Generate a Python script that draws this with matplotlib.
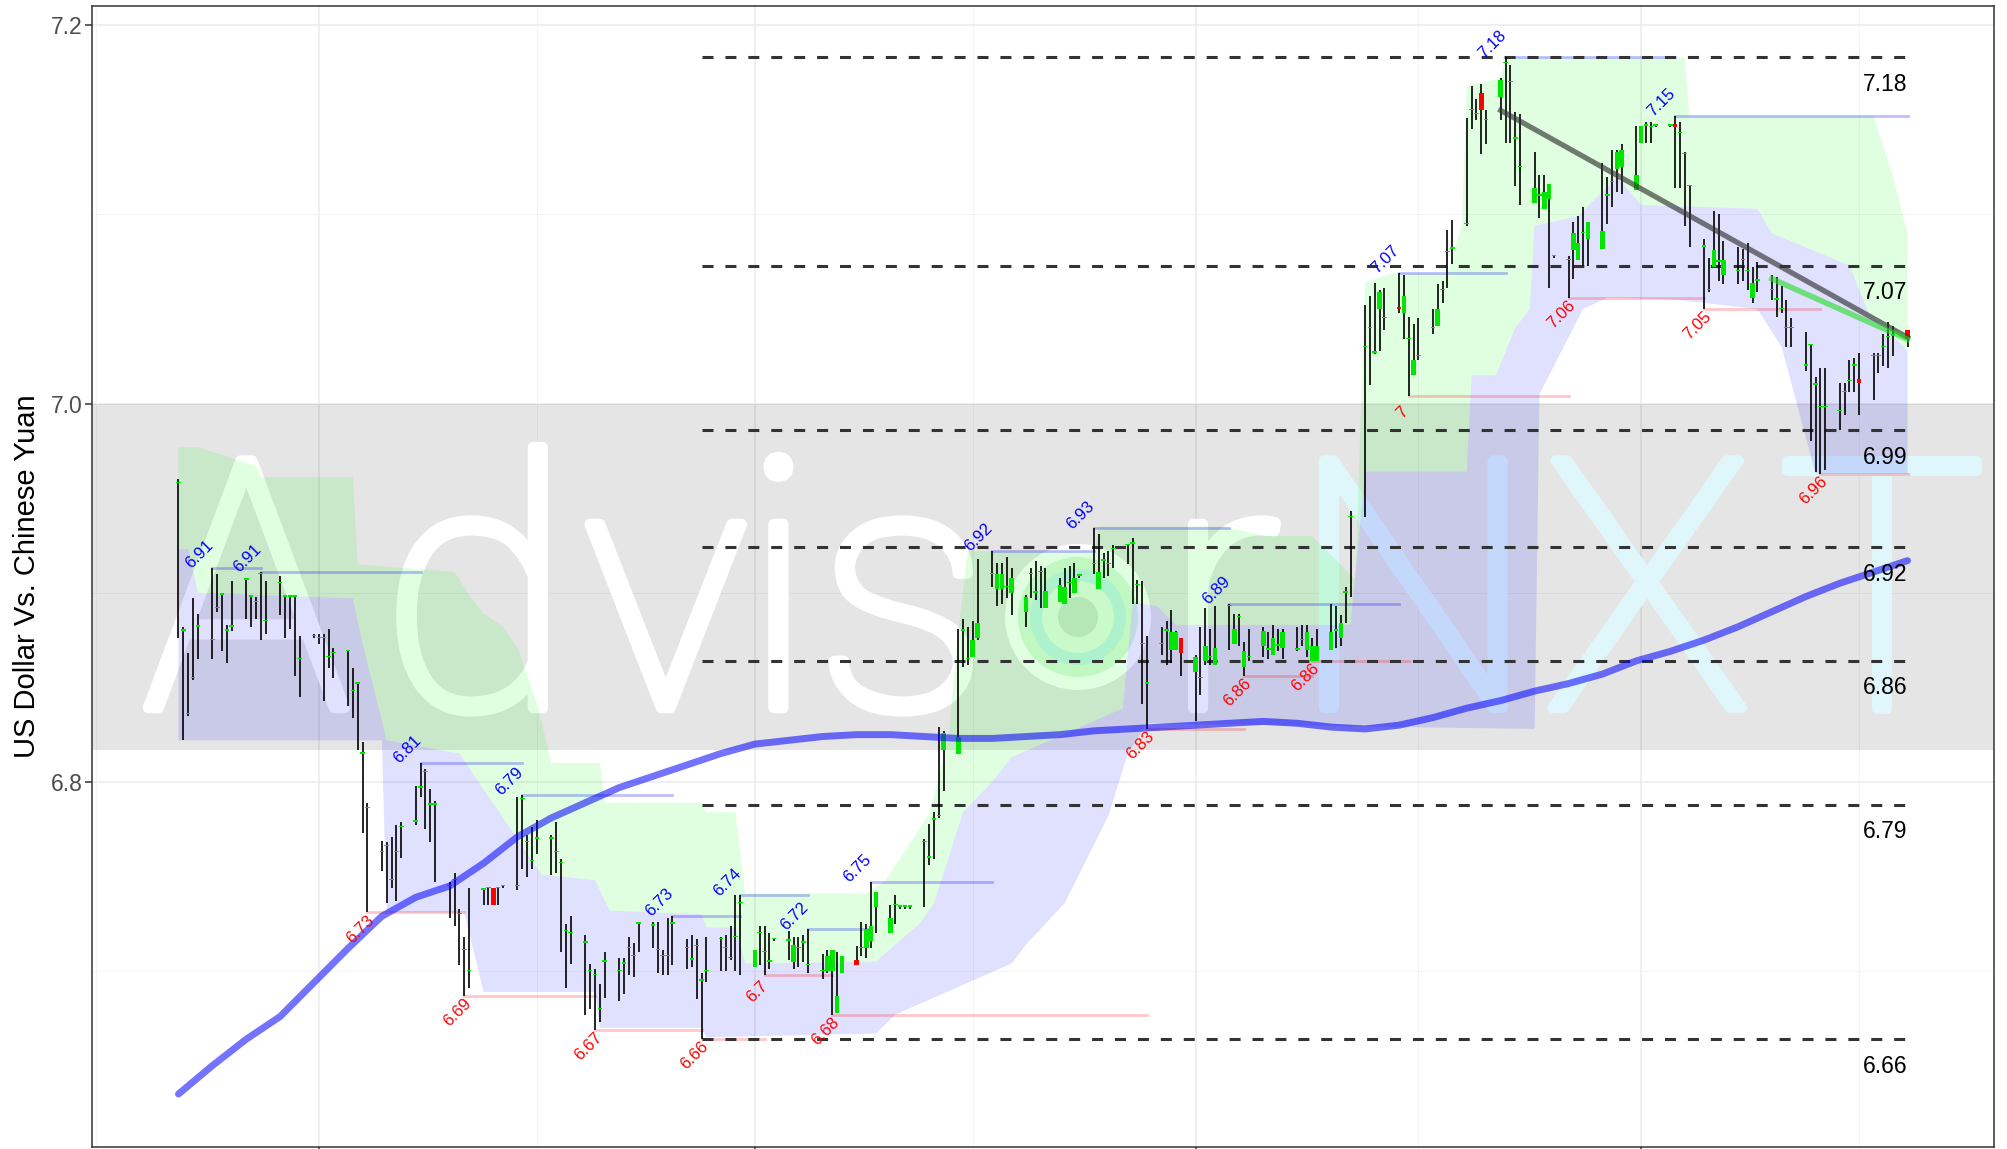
import numpy as np
import pandas as pd
import matplotlib
matplotlib.use("Agg")
import matplotlib.pyplot as plt
import matplotlib.patheffects as pe
from matplotlib.patches import Ellipse

plt.rcParams["font.family"] = ["Liberation Sans", "DejaVu Sans"]

# ── data: daily USD/CNY bars (one row = one week, Mon..Fri) ──────────
dates = pd.bdate_range("2018-12-03", "2019-11-25")

highs = [
    6.960, 6.882, 6.868, 6.897, 6.889, 6.913, 6.910, 6.900, 6.883, 6.906,
    6.908, 6.899, 6.898, 6.911, 6.906, 6.909, 6.899, 6.899, 6.899, 6.877,
    6.878, 6.878, 6.878, 6.881, 6.871, 6.870, 6.860, 6.853, 6.821, 6.789,
    6.769, 6.768, 6.771, 6.777, 6.779, 6.798, 6.810, 6.807, 6.796, 6.790,
    6.747, 6.752, 6.733, 6.718, 6.744, 6.744, 6.744, 6.744, 6.744, 6.745,
    6.792, 6.793, 6.772, 6.776, 6.780, 6.772, 6.779, 6.759, 6.725, 6.729,
    6.719, 6.704, 6.701, 6.693, 6.710, 6.707, 6.707, 6.718, 6.715, 6.726,
    6.726, 6.726, 6.711, 6.728, 6.729, 6.717, 6.719, 6.717, 6.699, 6.718,
    6.718, 6.719, 6.724, 6.740, 6.740, 6.711, 6.724, 6.724, 6.720, 6.717,
    6.721, 6.718, 6.718, 6.719, 6.722, 6.709, 6.711, 6.711, 6.710, 6.708,
    6.713, 6.726, 6.725, 6.747, 6.742, 6.735, 6.740, 6.735, 6.735, 6.735,
    6.770, 6.778, 6.784, 6.829, 6.827, 6.881, 6.886, 6.882, 6.885, 6.918,
    6.922, 6.916, 6.916, 6.919, 6.913, 6.899, 6.913, 6.917, 6.914, 6.913,
    6.908, 6.913, 6.914, 6.916, 6.909, 6.934, 6.931, 6.921, 6.922, 6.925,
    6.926, 6.929, 6.907, 6.906, 6.877, 6.882, 6.885, 6.891, 6.880, 6.876,
    6.867, 6.882, 6.892, 6.881, 6.893, 6.894, 6.889, 6.889, 6.874, 6.881,
    6.882, 6.879, 6.883, 6.881, 6.881, 6.882, 6.883, 6.883, 6.876, 6.881,
    6.894, 6.893, 6.888, 6.903, 6.943, 7.052, 7.057, 7.064, 7.060, 7.061,
    7.069, 7.068, 7.046, 7.042, 7.045, 7.050, 7.063, 7.065, 7.092, 7.097,
    7.151, 7.168, 7.161, 7.169, 7.155, 7.172, 7.183, 7.179, 7.154, 7.153,
    7.133, 7.121, 7.121, 7.116, 7.078, 7.078, 7.096, 7.099, 7.104, 7.096,
    7.127, 7.120, 7.134, 7.134, 7.137, 7.147, 7.147, 7.149, 7.149, 7.147,
    7.147, 7.152, 7.149, 7.133, 7.115, 7.087, 7.077, 7.102, 7.100, 7.086,
    7.083, 7.082, 7.085, 7.072, 7.075, 7.068, 7.067, 7.062, 7.055, 7.045,
    7.038, 7.031, 7.014, 7.019, 7.019, 7.011, 7.011, 7.023, 7.024, 7.027,
    7.027, 7.027, 7.037, 7.043, 7.041, 7.039,
]

lows = [
    6.876, 6.822, 6.835, 6.854, 6.865, 6.865, 6.890, 6.869, 6.863, 6.880,
    6.886, 6.882, 6.886, 6.875, 6.878, 6.888, 6.876, 6.881, 6.856, 6.845,
    6.876, 6.873, 6.843, 6.860, 6.855, 6.840, 6.834, 6.817, 6.773, 6.731,
    6.753, 6.736, 6.744, 6.737, 6.760, 6.777, 6.792, 6.775, 6.768, 6.747,
    6.728, 6.724, 6.703, 6.687, 6.691, 6.735, 6.735, 6.735, 6.735, 6.744,
    6.743, 6.754, 6.750, 6.754, 6.762, 6.751, 6.752, 6.710, 6.691, 6.704,
    6.677, 6.680, 6.669, 6.673, 6.686, 6.684, 6.688, 6.698, 6.697, 6.710,
    6.712, 6.699, 6.698, 6.698, 6.703, 6.701, 6.702, 6.685, 6.664, 6.694,
    6.700, 6.700, 6.706, 6.700, 6.698, 6.702, 6.703, 6.698, 6.701, 6.716,
    6.706, 6.701, 6.702, 6.705, 6.699, 6.696, 6.699, 6.677, 6.678, 6.699,
    6.703, 6.708, 6.707, 6.712, 6.720, 6.720, 6.725, 6.733, 6.733, 6.733,
    6.734, 6.756, 6.759, 6.781, 6.795, 6.815, 6.861, 6.862, 6.866, 6.875,
    6.903, 6.893, 6.894, 6.897, 6.888, 6.882, 6.897, 6.896, 6.892, 6.892,
    6.895, 6.894, 6.897, 6.900, 6.908, 6.910, 6.902, 6.908, 6.909, 6.913,
    6.915, 6.894, 6.894, 6.841, 6.828, 6.867, 6.862, 6.863, 6.870, 6.856,
    6.832, 6.846, 6.862, 6.862, 6.862, 6.870, 6.873, 6.872, 6.856, 6.864,
    6.866, 6.865, 6.867, 6.869, 6.865, 6.869, 6.872, 6.866, 6.864, 6.864,
    6.870, 6.871, 6.872, 6.884, 6.898, 6.940, 7.010, 7.026, 7.028, 7.039,
    7.048, 7.034, 7.004, 7.015, 7.023, 7.037, 7.041, 7.053, 7.061, 7.074,
    7.094, 7.145, 7.150, 7.132, 7.137, 7.150, 7.138, 7.138, 7.115, 7.105,
    7.106, 7.098, 7.103, 7.061, 7.077, 7.056, 7.066, 7.076, 7.073, 7.073,
    7.082, 7.095, 7.104, 7.112, 7.111, 7.113, 7.138, 7.138, 7.138, 7.146,
    7.146, 7.114, 7.114, 7.094, 7.083, 7.050, 7.059, 7.072, 7.065, 7.063,
    7.063, 7.065, 7.060, 7.053, 7.059, 7.055, 7.046, 7.048, 7.030, 7.030,
    7.017, 6.980, 6.964, 6.963, 6.965, 6.986, 6.994, 7.006, 7.006, 6.994,
    7.002, 7.016, 7.020, 7.019, 7.025, 7.030,
]

opens = [
    6.958, 6.880, 6.836, 6.855, 6.882, 6.875, 6.892, 6.899, 6.880, 6.882,
    6.907, 6.898, 6.895, 6.910, 6.885, 6.905, 6.898, 6.898, 6.898, 6.865,
    6.877, 6.876, 6.876, 6.866, 6.868, 6.869, 6.848, 6.852, 6.815, 6.786,
    6.763, 6.766, 6.748, 6.763, 6.776, 6.779, 6.797, 6.805, 6.788, 6.788,
    6.745, 6.748, 6.730, 6.711, 6.700, 6.743, 6.744, 6.744, 6.744, 6.745,
    6.745, 6.791, 6.768, 6.758, 6.770, 6.770, 6.763, 6.757, 6.721, 6.720,
    6.715, 6.700, 6.698, 6.680, 6.705, 6.700, 6.704, 6.712, 6.708, 6.725,
    6.724, 6.711, 6.708, 6.708, 6.725, 6.712, 6.706, 6.713, 6.695, 6.700,
    6.717, 6.712, 6.707, 6.718, 6.736, 6.702, 6.720, 6.710, 6.705, 6.717,
    6.716, 6.705, 6.712, 6.715, 6.703, 6.700, 6.700, 6.700, 6.678, 6.699,
    6.706, 6.712, 6.712, 6.716, 6.734, 6.720, 6.735, 6.734, 6.734, 6.734,
    6.768, 6.760, 6.780, 6.782, 6.817, 6.815, 6.880, 6.865, 6.866, 6.876,
    6.910, 6.902, 6.902, 6.903, 6.900, 6.890, 6.910, 6.900, 6.911, 6.892,
    6.895, 6.894, 6.905, 6.900, 6.909, 6.915, 6.902, 6.917, 6.915, 6.923,
    6.925, 6.926, 6.904, 6.873, 6.852, 6.873, 6.880, 6.870, 6.870, 6.876,
    6.858, 6.855, 6.864, 6.866, 6.862, 6.893, 6.873, 6.887, 6.861, 6.866,
    6.872, 6.870, 6.867, 6.872, 6.871, 6.870, 6.875, 6.870, 6.864, 6.864,
    6.870, 6.880, 6.876, 6.900, 6.940, 7.030, 7.040, 7.027, 7.050, 7.045,
    7.051, 7.048, 7.034, 7.015, 7.025, 7.040, 7.041, 7.060, 7.080, 7.082,
    7.095, 7.155, 7.153, 7.164, 7.150, 7.162, 7.180, 7.170, 7.140, 7.125,
    7.106, 7.110, 7.103, 7.108, 7.078, 7.076, 7.081, 7.076, 7.090, 7.087,
    7.082, 7.110, 7.117, 7.124, 7.125, 7.113, 7.138, 7.147, 7.146, 7.147,
    7.147, 7.148, 7.143, 7.132, 7.115, 7.083, 7.060, 7.072, 7.075, 7.068,
    7.070, 7.076, 7.070, 7.056, 7.065, 7.060, 7.055, 7.050, 7.040, 7.040,
    7.020, 7.031, 7.010, 6.998, 6.998, 6.996, 7.006, 7.012, 7.020, 7.013,
    7.025, 7.025, 7.030, 7.035, 7.036, 7.039,
]

closes = [
    6.958, 6.880, 6.836, 6.855, 6.882, 6.875, 6.892, 6.899, 6.880, 6.882,
    6.907, 6.898, 6.895, 6.910, 6.885, 6.905, 6.898, 6.898, 6.898, 6.865,
    6.877, 6.876, 6.876, 6.866, 6.868, 6.869, 6.848, 6.852, 6.815, 6.786,
    6.763, 6.766, 6.748, 6.763, 6.776, 6.779, 6.797, 6.805, 6.788, 6.788,
    6.745, 6.748, 6.730, 6.711, 6.700, 6.743, 6.744, 6.735, 6.744, 6.745,
    6.745, 6.791, 6.768, 6.758, 6.770, 6.770, 6.763, 6.757, 6.721, 6.720,
    6.715, 6.700, 6.698, 6.680, 6.705, 6.700, 6.704, 6.712, 6.708, 6.725,
    6.724, 6.711, 6.708, 6.708, 6.725, 6.712, 6.706, 6.713, 6.695, 6.700,
    6.717, 6.712, 6.707, 6.718, 6.736, 6.711, 6.720, 6.710, 6.705, 6.717,
    6.716, 6.714, 6.712, 6.715, 6.703, 6.700, 6.708, 6.711, 6.687, 6.708,
    6.703, 6.712, 6.722, 6.724, 6.742, 6.728, 6.735, 6.734, 6.734, 6.734,
    6.768, 6.760, 6.780, 6.782, 6.826, 6.824, 6.880, 6.865, 6.875, 6.884,
    6.910, 6.910, 6.910, 6.903, 6.908, 6.898, 6.910, 6.900, 6.911, 6.901,
    6.904, 6.903, 6.905, 6.908, 6.909, 6.915, 6.911, 6.917, 6.915, 6.923,
    6.925, 6.926, 6.904, 6.873, 6.852, 6.873, 6.880, 6.879, 6.879, 6.868,
    6.866, 6.855, 6.872, 6.866, 6.871, 6.893, 6.881, 6.887, 6.869, 6.866,
    6.880, 6.870, 6.876, 6.872, 6.879, 6.870, 6.875, 6.879, 6.872, 6.872,
    6.879, 6.880, 6.884, 6.900, 6.940, 7.030, 7.040, 7.027, 7.059, 7.045,
    7.050, 7.057, 7.034, 7.023, 7.025, 7.040, 7.050, 7.060, 7.080, 7.082,
    7.095, 7.155, 7.153, 7.155, 7.150, 7.171, 7.180, 7.170, 7.140, 7.125,
    7.114, 7.110, 7.112, 7.116, 7.078, 7.076, 7.090, 7.085, 7.090, 7.096,
    7.091, 7.110, 7.117, 7.133, 7.134, 7.121, 7.147, 7.147, 7.146, 7.147,
    7.147, 7.146, 7.143, 7.132, 7.115, 7.083, 7.060, 7.081, 7.075, 7.076,
    7.070, 7.076, 7.070, 7.064, 7.065, 7.060, 7.055, 7.050, 7.040, 7.040,
    7.020, 7.031, 7.010, 6.998, 6.998, 6.996, 7.006, 7.012, 7.020, 7.011,
    7.025, 7.025, 7.030, 7.035, 7.036, 7.034,
]

# weekly values of the long moving average (Mondays)
ma_values = [
    6.635, 6.650, 6.664, 6.676, 6.694, 6.712, 6.729, 6.739, 6.745, 6.757,
    6.771, 6.781, 6.789, 6.797, 6.803, 6.809, 6.815, 6.820, 6.822, 6.824,
    6.825, 6.825, 6.824, 6.823, 6.823, 6.824, 6.825, 6.827, 6.828, 6.829,
    6.830, 6.831, 6.832, 6.831, 6.829, 6.828, 6.830, 6.834, 6.839, 6.843,
    6.848, 6.852, 6.857, 6.864, 6.869, 6.875, 6.882, 6.890, 6.898, 6.905,
    6.911, 6.917,
]
ma_dates = pd.date_range("2018-12-03", "2019-11-25", freq="W-MON")

# upper (green) band edge, green/lavender boundary, lower (lavender) edge
band_top_dates = [
    "2018-12-03", "2018-12-07", "2018-12-19", "2018-12-20", "2019-01-08",
    "2019-01-09", "2019-01-29", "2019-02-01", "2019-02-04", "2019-02-08",
    "2019-02-11", "2019-02-15", "2019-02-18", "2019-02-28", "2019-03-01",
    "2019-03-21", "2019-03-22", "2019-03-28", "2019-03-30", "2019-04-24",
    "2019-04-28", "2019-05-07", "2019-05-11", "2019-05-13", "2019-05-15",
    "2019-06-10", "2019-06-11", "2019-07-07", "2019-07-15", "2019-07-25",
    "2019-08-03", "2019-08-05", "2019-08-11", "2019-08-22", "2019-08-25",
    "2019-08-26", "2019-09-02", "2019-09-03", "2019-10-10", "2019-10-11",
    "2019-11-18", "2019-11-22", "2019-11-25",
]
band_top = [
    6.977, 6.977, 6.967, 6.961, 6.961, 6.915, 6.911, 6.899, 6.889, 6.882,
    6.871, 6.842, 6.810, 6.810, 6.789, 6.789, 6.784, 6.784, 6.741, 6.741,
    6.748, 6.783, 6.823, 6.880, 6.922, 6.922, 6.935, 6.935, 6.930, 6.930,
    6.907, 7.064, 7.069, 7.069, 7.094, 7.168, 7.172, 7.183, 7.183, 7.152,
    7.152, 7.120, 7.090,
]
band_mid_dates = [
    "2018-12-03", "2018-12-05", "2018-12-07", "2019-01-08", "2019-01-10",
    "2019-01-15", "2019-01-30", "2019-02-16", "2019-02-27", "2019-03-02",
    "2019-03-21", "2019-03-22", "2019-03-28", "2019-03-30", "2019-04-26",
    "2019-04-30", "2019-05-05", "2019-05-08", "2019-05-14", "2019-05-20",
    "2019-05-24", "2019-06-09", "2019-06-16", "2019-06-18", "2019-06-23",
    "2019-06-27", "2019-08-02", "2019-08-05", "2019-08-26", "2019-08-27",
    "2019-09-01", "2019-09-05", "2019-09-08", "2019-09-09", "2019-09-18",
    "2019-09-26", "2019-10-01", "2019-10-25", "2019-10-28", "2019-11-13",
    "2019-11-17", "2019-11-25",
]
band_mid = [
    6.923, 6.923, 6.900, 6.897, 6.873, 6.822, 6.815, 6.751, 6.748, 6.732,
    6.730, 6.723, 6.723, 6.704, 6.705, 6.714, 6.725, 6.736, 6.784, 6.800,
    6.813, 6.831, 6.839, 6.895, 6.893, 6.883, 6.883, 6.964, 6.964, 7.015,
    7.015, 7.040, 7.050, 7.094, 7.099, 7.120, 7.105, 7.103, 7.090, 7.073,
    7.048, 7.028,
]
band_low_dates = [
    "2018-12-03", "2019-01-14", "2019-01-15", "2019-01-31", "2019-02-04",
    "2019-02-27", "2019-02-28", "2019-03-21", "2019-03-22", "2019-04-26",
    "2019-04-30", "2019-05-24", "2019-05-27", "2019-06-04", "2019-06-13",
    "2019-06-17", "2019-06-21", "2019-09-09", "2019-09-10", "2019-09-19",
    "2019-09-24", "2019-10-08", "2019-10-25", "2019-10-30", "2019-11-06",
    "2019-11-25",
]
band_low = [
    6.822, 6.822, 6.731, 6.731, 6.689, 6.689, 6.670, 6.670, 6.665, 6.667,
    6.677, 6.704, 6.714, 6.736, 6.782, 6.815, 6.831, 6.828, 7.005, 7.050,
    7.056, 7.055, 7.050, 7.030, 6.963, 6.963,
]

pivot_high_dates = [
    "2018-12-10", "2018-12-20", "2019-01-22", "2019-02-12", "2019-03-15",
    "2019-03-29", "2019-04-12", "2019-04-25", "2019-05-20", "2019-06-10",
    "2019-07-08", "2019-08-12", "2019-09-03", "2019-10-08",
]
pivot_low_dates = [
    "2019-01-11", "2019-01-31", "2019-02-27", "2019-03-21", "2019-04-03",
    "2019-04-17", "2019-06-21", "2019-07-11", "2019-07-25", "2019-08-14",
    "2019-09-16", "2019-10-14", "2019-11-07",
]

level_values = [7.183, 7.073, 6.986, 6.924, 6.864, 6.788, 6.664]
level_start = "2019-03-21"

trend_dates = ["2019-09-02", "2019-11-25"]
trend_values = [7.155, 7.035]
short_trend_dates = ["2019-10-28", "2019-11-25"]
short_trend_values = [7.066, 7.034]

grey_zone = (6.817, 7.0)

# ── figure ───────────────────────────────────────────────────────────
W, H = 2007, 1149
fig = plt.figure(figsize=(W / 100, H / 100), dpi=100)
ax = fig.add_axes([92 / W, 2 / H, 1902 / W, 1141 / H])

df = pd.DataFrame({"high": highs, "low": lows, "open": opens,
                   "close": closes}, index=dates)

span = dates[-1] - dates[0]
ax.set_xlim(dates[0] - span * 0.05, dates[-1] + span * 0.05)
ax.set_ylim(6.607, 7.2102)

ax.set_xticks(pd.to_datetime(["2019-01-01", "2019-04-01", "2019-07-01",
                              "2019-10-01"]))
ax.set_xticks(pd.to_datetime(["2018-11-16", "2019-02-15", "2019-05-16",
                              "2019-08-16", "2019-11-15"]), minor=True)
ax.set_xticklabels([])
ax.set_yticks([6.8, 7.0, 7.2])
ax.set_yticklabels(["6.8", "7.0", "7.2"])
ax.set_yticks([6.7, 6.9, 7.1], minor=True)
ax.tick_params(which="major", length=5, width=1.1, color="#333333",
               labelsize=16.5, labelcolor="#4d4d4d", pad=2)
ax.tick_params(which="minor", length=0)
ax.set_axisbelow(True)
ax.grid(True, which="major", color="#ebebeb", lw=1.1)
ax.grid(True, which="minor", color="#f2f2f2", lw=0.6)
for s in ax.spines.values():
    s.set_color("#333333")
    s.set_linewidth(1.1)

ax.set_ylabel("US Dollar Vs. Chinese Yuan", fontsize=21, color="black")
ax.yaxis.set_label_coords(-0.027, 0.5)

# grey zone
ax.axhspan(*grey_zone, color="black", alpha=0.10, lw=0, zorder=1)

# watermark (letters placed one by one)
wm_letters = ["A", "d", "v", "i", "s", "r", "N", "X", "T"]
wm_centers = [0.0812, 0.2020, 0.3016, 0.3608, 0.4261, 0.5943, 0.6946,
              0.8177, 0.9409]
wm_colors = ["white"] * 6 + ["#dff6fb"] * 3
for ch, xc, c in zip(wm_letters, wm_centers, wm_colors):
    ax.text(xc, 0.385, ch, transform=ax.transAxes, fontsize=250,
            fontweight="light", family=["Roboto", "Lato", "DejaVu Sans"],
            va="baseline", ha="center", color=c, zorder=2,
            path_effects=[pe.withStroke(linewidth=8, foreground=c)])
cx, cy = 0.5184, 0.4645
for r, c in [(73, "white"), (60, "#dcf8dc"), (48, "#c6f1ea"),
             (36, "#e6fae6"), (20, "#cfe3cf")]:
    ax.add_patch(Ellipse((cx, cy), 2 * r / 1902, 2 * r / 1141,
                         transform=ax.transAxes, color=c, lw=0, zorder=2))

# bands
top_d = pd.to_datetime(band_top_dates)
mid_d = pd.to_datetime(band_mid_dates)
low_d = pd.to_datetime(band_low_dates)
ax.fill(list(top_d) + list(mid_d[::-1]), band_top + band_mid[::-1],
        color="#00ff00", alpha=0.12, lw=0, zorder=3)
ax.fill(list(mid_d) + list(low_d[::-1]), band_mid + band_low[::-1],
        color="#0000ff", alpha=0.12, lw=0, zorder=3)

# pivot lines + labels
end_date = dates[-1]
ph = pd.to_datetime(pivot_high_dates)
pl = pd.to_datetime(pivot_low_dates)
for i, d in enumerate(ph):
    v = df.loc[d, "high"]
    d2 = ph[i + 1] if i + 1 < len(ph) else end_date
    ax.plot([d, d2], [v, v], color="#0000ff", alpha=0.25, lw=2, zorder=4)
    ax.annotate(f"{round(v, 2):g}", xy=(d, v), xytext=(-9.6, 9.6),
                textcoords="offset points", ha="center", va="center",
                rotation=45, rotation_mode="anchor", color="blue",
                fontsize=12, zorder=9)
for i, d in enumerate(pl):
    v = df.loc[d, "low"]
    d2 = pl[i + 1] if i + 1 < len(pl) else end_date
    ax.plot([d, d2], [v, v], color="#ff0000", alpha=0.22, lw=2, zorder=4)
    ax.annotate(f"{round(v, 2):g}", xy=(d, v), xytext=(-5, -12),
                textcoords="offset points", ha="center", va="center",
                rotation=45, rotation_mode="anchor", color="red",
                fontsize=12, zorder=9)

# support / resistance levels
ls = pd.Timestamp(level_start)
for v in level_values:
    ax.plot([ls, end_date], [v, v], color="#333333", lw=2.2,
            ls=(0, (3.6, 3.9)), zorder=5)
    ax.annotate(f"{round(v, 2):g}", xy=(end_date, v), xytext=(0, -19.5),
                textcoords="offset points", ha="right", va="center",
                fontsize=16.5, color="black", zorder=9)

# candles
ax.vlines(dates, df["low"], df["high"], color="black", lw=1.2, zorder=6)
body_low = np.minimum(df["open"], df["close"])
body_h = np.maximum(np.abs(df["close"] - df["open"]), 0.0007)
body_col = np.where(df["close"] >= df["open"], "#00e600", "#ff0000")
ax.bar(dates, body_h, bottom=body_low, width=0.95, color=body_col,
       lw=0, zorder=7)

# moving average
ax.plot(ma_dates, ma_values, color="#0000ff", alpha=0.55, lw=5,
        solid_capstyle="round", zorder=8)

# trend lines
ax.plot(pd.to_datetime(trend_dates), trend_values, color="#333333",
        alpha=0.65, lw=3.8, zorder=8)
ax.plot(pd.to_datetime(short_trend_dates), short_trend_values,
        color="#22dd22", alpha=0.6, lw=4, zorder=8)

fig.savefig("out.png", dpi=100)
